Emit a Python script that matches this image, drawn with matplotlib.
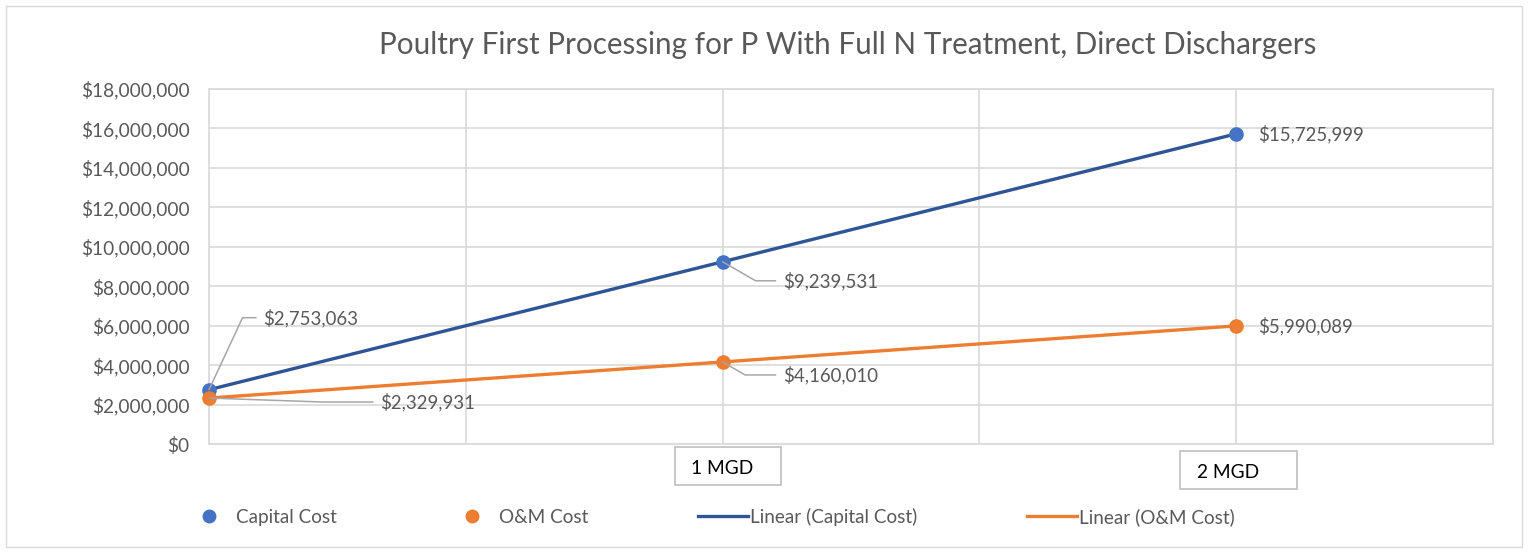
import numpy as np
import matplotlib
matplotlib.use("Agg")
import matplotlib.pyplot as plt
from matplotlib.patches import Rectangle
from matplotlib.lines import Line2D
from matplotlib.ticker import FuncFormatter, MultipleLocator
import matplotlib.transforms as mtransforms

plt.rcParams['font.family'] = ['Lato', 'DejaVu Sans']

# ---- data ----
flow_mgd = [0, 1, 2]
capital_cost = [2753063, 9239531, 15725999]
om_cost = [2329931, 4160010, 5990089]
x_box_labels = ["1 MGD", "2 MGD"]
x_box_pos = [1, 2]
title = "Poultry First Processing for P With Full N Treatment, Direct Dischargers"
series_names = ["Capital Cost", "O&M Cost", "Linear (Capital Cost)", "Linear (O&M Cost)"]

# ---- style ----
TXT = "#595959"
GRID = "#D9D9D9"
BLUE_M = "#4472C4"
BLUE_L = "#2F5597"
ORANGE = "#ED7D31"
LEADER = "#A6A6A6"

W, H = 1528, 553
AX_L, AX_R, AX_T, AX_B = 209, 1493, 89, 444
fig = plt.figure(figsize=(W/100, H/100), dpi=100)
ax = fig.add_axes([AX_L/W, 1-AX_B/H, (AX_R-AX_L)/W, (AX_B-AX_T)/H])

# figure border
fig.patches.append(Rectangle((6/W, 6/H), 1516/W, 541/H, transform=fig.transFigure,
                             fill=False, edgecolor=GRID, linewidth=1))

x = np.array(flow_mgd, dtype=float)
cap = np.array(capital_cost, dtype=float)
om = np.array(om_cost, dtype=float)

# linear trendlines
pc = np.polyfit(x, cap, 1)
po = np.polyfit(x, om, 1)
xt = np.array([x.min(), x.max()])
ax.plot(xt, np.polyval(pc, xt), color=BLUE_L, lw=2.4, zorder=3, solid_capstyle='butt')
ax.plot(xt, np.polyval(po, xt), color=ORANGE, lw=2.4, zorder=3, solid_capstyle='butt')

ax.plot(x, cap, linestyle='none', marker='o', ms=9.5, color=BLUE_M, zorder=4, clip_on=False)
ax.plot(x, om, linestyle='none', marker='o', ms=9.5, color=ORANGE, zorder=4, clip_on=False)

ax.set_xlim(0, 2.5)
ax.set_ylim(0, 18000000)
ax.xaxis.set_major_locator(MultipleLocator(0.5))
ax.yaxis.set_major_locator(MultipleLocator(2000000))
ax.yaxis.set_major_formatter(FuncFormatter(lambda v, p: "${:,.0f}".format(v)))
ax.set_xticklabels([])
ax.tick_params(axis='x', length=0)
ax.tick_params(axis='y', length=0, pad=14, labelsize=13.8, labelcolor=TXT)
ax.grid(True, color=GRID, lw=1.2)
ax.set_axisbelow(True)
for s in ax.spines.values():
    s.set_color(GRID)
    s.set_linewidth(1.2)

# data labels
lab_fs = 13.4
def dlabel(xv, yv, dx, dy, leader=None):
    txt = "${:,.0f}".format(yv)
    if leader is None:
        ax.annotate(txt, (xv, yv), xytext=(dx, dy), textcoords='offset pixels',
                    ha='left', va='center', fontsize=lab_fs, color=TXT, zorder=5)
    else:
        ax.annotate(txt, (xv, yv), xytext=(dx, dy), textcoords='offset pixels',
                    ha='left', va='center', fontsize=lab_fs, color=TXT, zorder=5,
                    arrowprops=dict(arrowstyle='-', color=LEADER, lw=1.1,
                                    shrinkA=3, shrinkB=0,
                                    connectionstyle="angle,angleA=180,angleB=%d,rad=0" % leader))

dlabel(x[0], cap[0], 54, 72, leader=65)
dlabel(x[0], om[0], 171, -4, leader=178)
dlabel(x[1], cap[1], 60, -19, leader=150)
dlabel(x[1], om[1], 60, -13, leader=150)
dlabel(x[2], cap[2], 22, 0)
dlabel(x[2], om[2], 22, 0)

# boxed x labels (box geometry in pixels relative to the tick position / axis bottom)
trans = mtransforms.blended_transform_factory(ax.transData, ax.transAxes)
ax_w_px, ax_h_px = AX_R - AX_L, AX_B - AX_T
xrange_ = 2.5
box_geo = [  # (left px, width px, top px below axis, height px, text left px)
    (-48, 106, 3, 38, -32),
    (-56, 117, 7, 38, -39),
]
for lbl, xp, (bl, bw, bt, bh, tl) in zip(x_box_labels, x_box_pos, box_geo):
    x0 = xp + bl / ax_w_px * xrange_
    y0 = -(bt + bh) / ax_h_px
    ax.add_patch(Rectangle((x0, y0), bw / ax_w_px * xrange_, bh / ax_h_px, transform=trans,
                           fill=True, fc='white', ec='#BFBFBF', lw=1.2, clip_on=False))
    ax.text(xp + tl / ax_w_px * xrange_, -(bt + bh / 2 + 3) / ax_h_px, lbl, transform=trans,
            ha='left', va='center', fontsize=13.8, color='black', clip_on=False)

# title
fig.text(848/W, 1-45/H, title, ha='center', va='center', fontsize=21.3, color=TXT)

# legend
handles = [
    Line2D([], [], linestyle='none', marker='o', ms=9, color=BLUE_M),
    Line2D([], [], linestyle='none', marker='o', ms=9, color=ORANGE),
    Line2D([], [], color=BLUE_L, lw=2.4),
    Line2D([], [], color=ORANGE, lw=2.4),
]
leg = fig.legend(handles, series_names, loc='center left', bbox_to_anchor=(184/W, 1-517/H),
                 ncol=4, frameon=False, fontsize=13.6, handlelength=2.65, handletextpad=0.12,
                 columnspacing=5.8, borderaxespad=0, borderpad=0)
for t in leg.get_texts():
    t.set_color(TXT)

fig.savefig("out.png", dpi=100)
